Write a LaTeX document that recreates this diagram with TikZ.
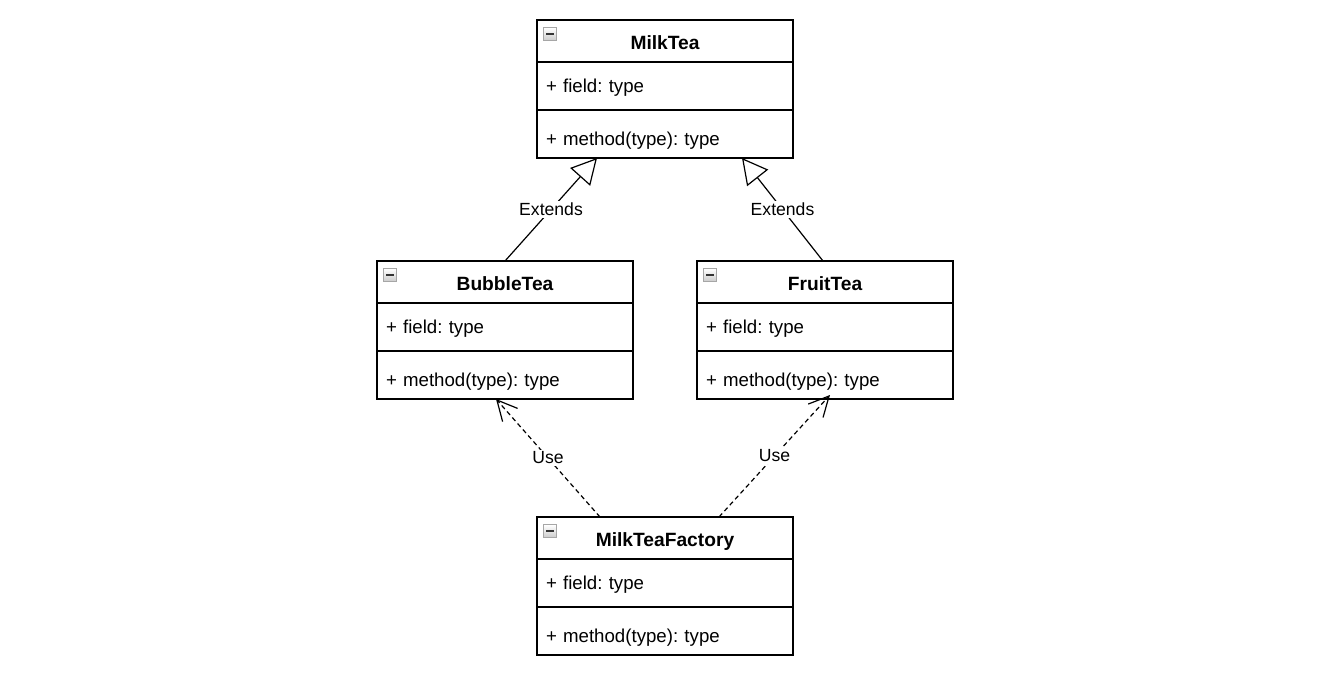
\documentclass[tikz,border=0pt]{standalone}
\usepackage{fontspec}
\setmainfont{Liberation Sans}
\frenchspacing
\usetikzlibrary{positioning, arrows.meta}
\tikzstyle{classhead} = [rectangle, draw=black, line width=0.9pt, outer sep=0pt, minimum width=192pt, minimum height=31.5pt, text height=16.4pt, text depth=3pt, font=\fontsize{14.4}{17}\selectfont\bfseries]
\tikzstyle{fieldbox} = [rectangle, draw=black, line width=0.9pt, outer sep=0pt, minimum height=36pt, inner xsep=6.75pt, text width=178.5pt, align=left, text height=12pt, text depth=3pt, font=\fontsize{14}{17}\selectfont]
\tikzstyle{methodbox} = [fieldbox, text height=20.5pt]
\tikzstyle{collapse} = [rectangle, draw=gray!70, top color=white, bottom color=gray!40, minimum size=9.5pt, inner sep=0pt, line width=0.6pt,
  path picture={\draw[line width=1.1pt, black!80] ([xshift=1.8pt]path picture bounding box.west) -- ([xshift=-1.8pt]path picture bounding box.east);}]
\tikzstyle{extends} = [line width=0.9pt, -{Triangle[open, length=19pt, width=20pt]}]
\tikzstyle{use} = [line width=0.9pt, dash pattern=on 3.5pt off 2.5pt, -{Straight Barb[length=15pt, width=15pt]}]
\tikzstyle{lbl} = [fill=white, inner sep=1.5pt, font=\fontsize{13.2}{15}\selectfont]

\begin{document}
\begin{tikzpicture}[x=0.75pt, y=-0.75pt]

\useasboundingbox (0,0) rectangle (1320,672);

% classes
\node (milktea) [classhead] at (665,41) {MilkTea};
\node (milktea-field) [fieldbox, below=0pt of milktea] {+ field: type};
\node (milktea-method) [methodbox, below=0pt of milktea-field] {+ method(type): type};
\node (milktea-icon) [collapse] at ([xshift=9.75pt, yshift=-10.5pt]milktea.north west) {};

\node (bubbletea) [classhead] at (505,282) {BubbleTea};
\node (bubbletea-field) [fieldbox, below=0pt of bubbletea] {+ field: type};
\node (bubbletea-method) [methodbox, below=0pt of bubbletea-field] {+ method(type): type};
\node (bubbletea-icon) [collapse] at ([xshift=9.75pt, yshift=-10.5pt]bubbletea.north west) {};

\node (fruittea) [classhead] at (825,282) {FruitTea};
\node (fruittea-field) [fieldbox, below=0pt of fruittea] {+ field: type};
\node (fruittea-method) [methodbox, below=0pt of fruittea-field] {+ method(type): type};
\node (fruittea-icon) [collapse] at ([xshift=9.75pt, yshift=-10.5pt]fruittea.north west) {};

\node (factory) [classhead] at (665,538) {MilkTeaFactory};
\node (factory-field) [fieldbox, below=0pt of factory] {+ field: type};
\node (factory-method) [methodbox, below=0pt of factory-field] {+ method(type): type};
\node (factory-icon) [collapse] at ([xshift=9.75pt, yshift=-10.5pt]factory.north west) {};

% relations
\draw [extends] (bubbletea.north) -- node[lbl] {Extends} ([xshift=-51pt]milktea-method.south);
\draw [extends] ([xshift=-1.5pt]fruittea.north) -- node[lbl] {Extends} ([xshift=57.75pt]milktea-method.south);
\draw [use] ([xshift=-48.75pt]factory.north) -- node[lbl] {Use} ([xshift=-6.75pt]bubbletea-method.south);
\draw [use] ([xshift=40.5pt]factory.north) -- node[lbl] {Use} ([xshift=3.75pt, yshift=3pt]fruittea-method.south);

\end{tikzpicture}
\end{document}
